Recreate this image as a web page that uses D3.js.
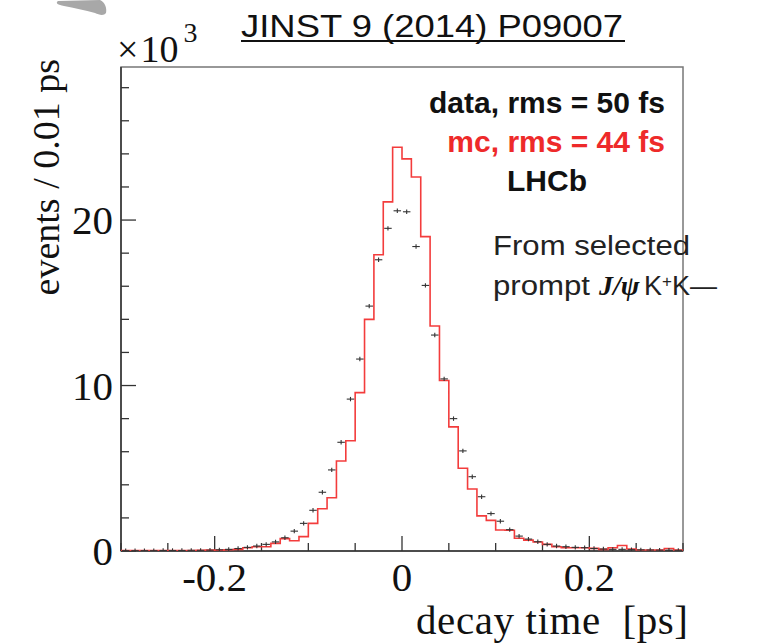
<!DOCTYPE html>
<html><head><meta charset="utf-8">
<script src="https://cdn.jsdelivr.net/npm/d3@7"></script>
<style>body{margin:0;background:#fff}svg{display:block}</style>
</head><body><svg id="c" width="758" height="643"></svg>
<script>
// ---- data (thousands of events per 0.01 ps bin), bins from -0.30 to 0.30 ps
const binLo = -0.30, binWidth = 0.01;
const mcValues = [0.02,0.02,0.03,0.02,0.03,0.02,0.03,0.03,0.04,0.05,
  0.05,0.08,0.10,0.20,0.26,0.26,0.46,0.75,0.62,0.87,
  1.67,2.55,3.22,5.44,6.66,9.57,14.0,17.9,21.1,24.4,
  23.7,22.6,19.0,13.6,10.3,7.5,5.0,3.75,2.12,1.85,
  1.27,1.25,0.77,0.66,0.54,0.40,0.26,0.20,0.20,0.20,
  0.16,0.10,0.20,0.33,0.12,0.06,0.06,0.06,0.15,0.06];
const dataValues = [0.02,0.02,0.02,0.02,0.03,0.03,0.03,0.04,0.04,0.05,
  0.07,0.10,0.15,0.22,0.30,0.40,0.55,0.80,1.20,1.67,
  2.46,3.55,4.90,6.57,9.18,11.6,14.8,17.6,19.5,20.56,
  20.5,18.4,16.05,13.05,10.4,8.0,6.05,4.49,3.28,2.26,
  1.80,1.29,0.90,0.72,0.56,0.40,0.30,0.26,0.22,0.20,
  0.15,0.12,0.10,0.10,0.08,0.07,0.06,0.05,0.05,0.04];
const xTicks = [-0.2, 0, 0.2];
const xTickLabels = ["-0.2", "0", "0.2"];
const yTicks = [0, 10, 20];
const yTickLabels = ["0", "10", "20"];
const legendTexts = ["data, rms = 50 fs", "mc, rms = 44 fs", "LHCb"];
const titleText = "JINST 9 (2014) P09007";

// ---- layout
const L = 121, R = 683, T = 67, B = 551;
const svg = d3.select("#c");
const x = d3.scaleLinear().domain([-0.3, 0.3]).range([L, R]);
const y = d3.scaleLinear().domain([0, 29.25]).range([B, T]);
const serif = "'Liberation Serif','DejaVu Serif',serif";
const sans = "'Liberation Sans',Arial,sans-serif";

// grey smudge artifact top-left
svg.append("path").attr("d","M58,1 L100,0 C105,2 107,8 106,13 C104,16 99,15 95,13 C85,10 74,8 64,6 C58,5 55,3 58,1 Z")
  .attr("fill","#a8a8a8");

svg.append("defs").append("clipPath").attr("id","clip")
  .append("rect").attr("x",L).attr("y",T).attr("width",R-L).attr("height",B-T);

// frame
svg.append("rect").attr("x",L).attr("y",T).attr("width",R-L).attr("height",B-T)
  .attr("fill","none").attr("stroke","#777").attr("stroke-width",1.5);

// axes ticks
const xMinor = d3.range(-0.3, 0.3001, 0.05).map(v=>+v.toFixed(2));
const gx = svg.append("g");
gx.selectAll("line.mi").data(xMinor).join("line")
  .attr("x1",d=>x(d)).attr("x2",d=>x(d)).attr("y1",B).attr("y2",d=>xTicks.some(t=>Math.abs(t-d)<1e-6)?B-15:B-8)
  .attr("stroke","#333").attr("stroke-width",1.3);
gx.selectAll("text").data(xTicks).join("text")
  .attr("x",d=>x(d)).attr("y",591).attr("text-anchor","middle")
  .attr("font-family",serif).attr("font-size",41).attr("fill","#111")
  .text((d,i)=>xTickLabels[i]);

const yMinor = d3.range(0, 29.01, 2);
const gy = svg.append("g");
gy.selectAll("line").data(yMinor).join("line")
  .attr("x1",L).attr("x2",d=>(d%10===0)?L+15:L+8).attr("y1",d=>y(d)).attr("y2",d=>y(d))
  .attr("stroke","#333").attr("stroke-width",1.3);
gy.selectAll("text").data(yTicks).join("text")
  .attr("x",113).attr("y",d=>y(d)).attr("dy","0.35em").attr("text-anchor","end")
  .attr("font-family",serif).attr("font-size",41).attr("fill","#111")
  .text((d,i)=>yTickLabels[i]);

// axis bottom/left lines darker
svg.append("line").attr("x1",L).attr("x2",R).attr("y1",B).attr("y2",B).attr("stroke","#333").attr("stroke-width",1.5);
svg.append("line").attr("x1",L).attr("x2",L).attr("y1",T).attr("y2",B).attr("stroke","#333").attr("stroke-width",1.5);

// axis titles
svg.append("text").attr("transform",`translate(59,${T-8}) rotate(-90)`).attr("text-anchor","end")
  .attr("font-family",serif).attr("font-size",38).attr("fill","#111").text("events / 0.01 ps");
svg.append("text").attr("x",688).attr("y",634).attr("text-anchor","end")
  .attr("font-family",serif).attr("font-size",41).attr("fill","#111").attr("xml:space","preserve")
  .attr("textLength",272).attr("lengthAdjust","spacing")
  .text("decay time  [ps]");

// x10^3
const mult = svg.append("text").attr("x",117).attr("y",62).attr("font-family",serif).attr("font-size",38).attr("fill","#111");
mult.append("tspan").text("\u00d7");
mult.append("tspan").attr("dx",2).text("10");
mult.append("tspan").attr("font-size",28).attr("dy",-20).attr("dx",5).text("3");

// MC histogram
const edges = mcValues.map((v,i)=>[binLo+i*binWidth, v]);
edges.push([binLo+mcValues.length*binWidth, mcValues[mcValues.length-1]]);
const plot = svg.append("g").attr("clip-path","url(#clip)");
plot.append("path").datum(edges)
  .attr("d", d3.line().x(d=>x(d[0])).y(d=>y(d[1])).curve(d3.curveStepAfter))
  .attr("fill","none").attr("stroke","#f33c3c").attr("stroke-width",1.6);

// data points
const pts = dataValues.map((v,i)=>({c:binLo+(i+0.5)*binWidth, v}));
const gp = plot.append("g").attr("stroke","#333").attr("stroke-width",1.1);
gp.selectAll("line.h").data(pts).join("line").attr("class","h")
  .attr("x1",d=>x(d.c-0.4*binWidth)).attr("x2",d=>x(d.c+0.4*binWidth))
  .attr("y1",d=>y(d.v)).attr("y2",d=>y(d.v));
gp.selectAll("line.v").data(pts).join("line").attr("class","v")
  .attr("x1",d=>x(d.c)).attr("x2",d=>x(d.c))
  .attr("y1",d=>y(d.v)-2.2).attr("y2",d=>y(d.v)+2.2);

// legend
svg.append("text").attr("x",665).attr("y",113).attr("text-anchor","end")
  .attr("font-family",sans).attr("font-weight","bold").attr("font-size",30).attr("fill","#111").text(legendTexts[0]);
svg.append("text").attr("x",665).attr("y",152).attr("text-anchor","end")
  .attr("font-family",sans).attr("font-weight","bold").attr("font-size",30).attr("fill","#ee2a2a").text(legendTexts[1]);
svg.append("text").attr("x",547).attr("y",191).attr("text-anchor","middle")
  .attr("font-family",sans).attr("font-weight","bold").attr("font-size",30).attr("fill","#111").text(legendTexts[2]);

// title
svg.append("text").attr("x",241).attr("y",37).attr("font-family",sans).attr("font-weight",300)
  .attr("font-size",31).attr("fill","#111").attr("textLength",382).attr("lengthAdjust","spacingAndGlyphs").text(titleText);
svg.append("line").attr("x1",241).attr("x2",625).attr("y1",41).attr("y2",41).attr("stroke","#111").attr("stroke-width",2);

// annotation
svg.append("text").attr("x",493).attr("y",255).attr("font-family",sans).attr("font-size",27).attr("fill","#222")
  .attr("textLength",197).attr("lengthAdjust","spacingAndGlyphs").text("From selected");
svg.append("text").attr("x",493).attr("y",295).attr("font-family",sans).attr("font-size",27).attr("fill","#222")
  .attr("textLength",97).attr("lengthAdjust","spacingAndGlyphs").text("prompt");
svg.append("text").attr("x",599).attr("y",295).attr("font-family",serif).attr("font-style","italic").attr("font-weight","bold")
  .attr("font-size",28).attr("fill","#111").text("J/\u03c8");
const kk = svg.append("text").attr("x",644).attr("y",295).attr("font-family",sans).attr("font-size",27).attr("fill","#222");
kk.append("tspan").text("K");
kk.append("tspan").attr("font-size",17).attr("dy",-8).text("+");
kk.append("tspan").attr("dy",8).text("K\u2014");
</script></body></html>
